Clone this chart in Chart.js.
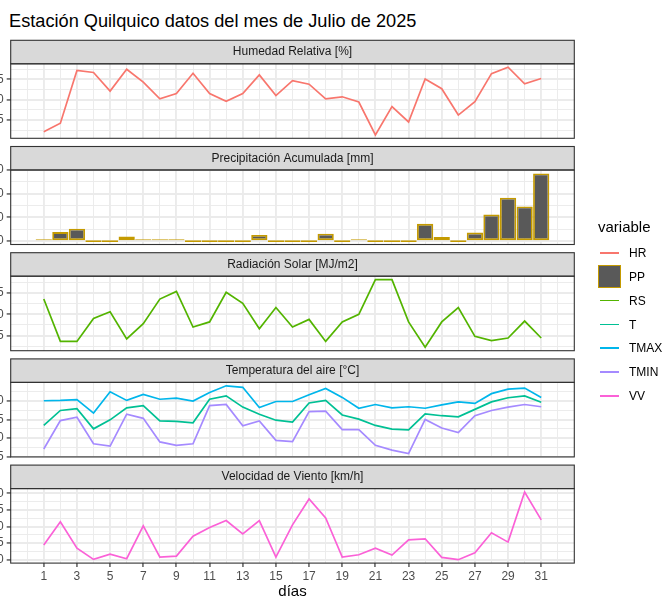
<!DOCTYPE html>
<html lang="es">
<head>
<meta charset="utf-8">
<title>Estación Quilquico - Julio 2025</title>
<script src="https://cdn.jsdelivr.net/npm/chart.js@4.4.1/dist/chart.umd.min.js"></script>
<style>
    html, body { margin: 0; padding: 0; background: #fff; }
    body {
        position: relative;
        width: 663px;
        height: 597px;
        overflow: hidden;
        font-family: "Liberation Sans", Arial, sans-serif;
    }
    canvas { position: absolute; left: 0; top: 0; }
    #titulo {
        position: absolute;
        left: 9px;
        top: 10.5px;
        font-size: 18.2px;
        line-height: 20px;
        color: #000;
        white-space: nowrap;
    }
    .ley-tit {
        position: absolute;
        left: 598px;
        top: 218px;
        font-size: 15px;
        line-height: 17px;
        color: #000;
    }
    .ley-fila {
        position: absolute;
        left: 598px;
        height: 23px;
        display: flex;
        align-items: center;
        font-size: 12px;
        color: #000;
    }
    .ley-clave { position: relative; width: 23px; height: 23px; }
    .ley-linea { position: absolute; left: 2px; top: 10.5px; width: 19px; height: 1.9px; }
    .ley-caja {
        position: absolute; left: 0; top: 0;
        width: 23px; height: 23px; box-sizing: border-box;
        background: #595959; border: 1.9px solid #C49A00;
    }
    .ley-texto { margin-left: 8px; }
</style>
</head>
<body>
<div id="titulo">Estación Quilquico datos del mes de Julio de 2025</div>
<canvas id="panel0" width="663" height="620"></canvas>
<canvas id="panel1" width="663" height="620"></canvas>
<canvas id="panel2" width="663" height="620"></canvas>
<canvas id="panel3" width="663" height="620"></canvas>
<canvas id="panel4" width="663" height="620"></canvas>
<div id="leyenda"></div>

<script>
// datos del mes
const dias = [1, 2, 3, 4, 5, 6, 7, 8, 9, 10, 11, 12, 13, 14, 15, 16, 17, 18, 19, 20, 21, 22, 23, 24, 25, 26, 27, 28, 29, 30, 31];
const etiquetasX = [1, 3, 5, 7, 9, 11, 13, 15, 17, 19, 21, 23, 25, 27, 29, 31];

const HR = [82.1, 84.2, 97.2, 96.7, 92.1, 97.5, 94.3, 90.2, 91.5, 96.5, 91.5, 89.6, 91.5, 96.1, 91.0, 94.7,
    93.8, 90.2, 90.7, 89.4, 81.3, 88.3, 84.5, 95.1, 92.7, 86.2, 89.5, 96.4, 98.0, 93.9, 95.2];
const PP = [0.2, 3.8, 5.2, 0, 0, 2.0, 0.7, 0.4, 0.1, 0, 0, 0, 0, 2.6, 0, 0,
    0, 3.1, 0, 0.4, 0, 0, 0, 7.3, 1.7, 0, 3.6, 11.2, 18.3, 14.6, 28.6];
const RS = [6.8, 1.8, 1.8, 4.5, 5.3, 2.1, 3.9, 6.8, 7.7, 3.5, 4.1, 7.6, 6.3, 3.3, 5.8, 3.5,
    4.4, 1.8, 4.1, 5.0, 9.1, 9.1, 4.1, 1.1, 4.1, 5.8, 2.4, 1.9, 2.2, 4.2, 2.2];
const T = [3.4, 7.4, 7.9, 2.5, 4.9, 8.1, 8.7, 4.6, 4.5, 4.1, 10.4, 11.3, 8.3, 6.4, 4.8, 4.3,
    9.4, 10.1, 6.2, 5.1, 3.4, 2.4, 2.2, 6.5, 6.0, 5.7, 7.7, 9.7, 10.8, 11.3, 9.6];
const TMAX = [10.0, 10.1, 10.3, 6.7, 12.4, 10.1, 11.7, 10.4, 10.7, 9.9, 12.2, 14.0, 13.6, 8.2, 9.8, 9.8,
    11.6, 13.3, 10.9, 8.0, 9.0, 8.1, 8.4, 8.0, 8.9, 9.7, 9.3, 11.9, 13.1, 13.4, 10.9];
const TMIN = [-2.9, 4.7, 5.6, -1.5, -2.1, 6.4, 5.3, -1.0, -1.9, -1.5, 8.7, 9.0, 3.3, 4.6, -0.6, -0.9,
    7.1, 7.2, 2.3, 2.3, -1.9, -3.2, -4.1, 5.0, 2.7, 1.5, 6.0, 7.4, 8.3, 9.0, 8.4];
const VV = [4.4, 11.4, 3.5, 0.1, 1.7, 0.3, 10.2, 0.8, 1.1, 7.1, 9.7, 11.8, 7.8, 11.8, 0.8, 10.5,
    18.3, 12.6, 0.8, 1.5, 3.5, 1.4, 6.0, 6.3, 0.7, 0.0, 2.1, 8.1, 5.3, 20.4, 12.0];

// marcas del eje y de cada panel
const marcasHR = [85, 90, 95];
const marcasPP = [0, 10, 20, 30];
const marcasRS = [2.5, 5, 7.5];
const marcasTemp = [-5, 0, 5, 10];
const marcasVV = [0, 5, 10, 15, 20];

const variables = ["HR", "PP", "RS", "T", "TMAX", "TMIN", "VV"];
const colores = ["#F8766D", "#C49A00", "#53B400", "#00C094", "#00B6EB", "#A58AFF", "#FB61D7"];

// geometria de la figura (estilo ggplot facet_wrap)
const ANCHO = 663, ALTO = 620;
const IZQ = 10.7, DER = 574.3;
const TIRA = 23.5, ALTO_PANEL = 74.5, PASO = 106.2, TOP0 = 63.8;
const GRIS_GRILLA = "#EBEBEB";

Chart.defaults.font.family = '"Liberation Sans", Arial, sans-serif';

const colorDe = (v) => colores[variables.indexOf(v)];

// tira gris con el titulo del panel + borde del panel
const tira = {
    id: "tira",
    afterDraw(chart, args, opts) {
        const { ctx, chartArea: a } = chart;
        ctx.save();
        ctx.fillStyle = "#D9D9D9";
        ctx.fillRect(a.left, a.top - TIRA, a.right - a.left, TIRA);
        ctx.strokeStyle = "#333333";
        ctx.lineWidth = 1.1;
        ctx.strokeRect(a.left, a.top - TIRA, a.right - a.left, TIRA);
        ctx.strokeRect(a.left, a.top, a.right - a.left, a.bottom - a.top);
        ctx.fillStyle = "#1A1A1A";
        ctx.font = '12px "Liberation Sans", Arial, sans-serif';
        ctx.textAlign = "center";
        ctx.textBaseline = "middle";
        ctx.fillText(opts.texto, (a.left + a.right) / 2, a.top - TIRA / 2);
        ctx.restore();
    },
};

function rango(listas, conCero) {
    const todos = [].concat(...listas);
    let lo = Math.min(...todos);
    let hi = Math.max(...todos);
    if (conCero) lo = Math.min(lo, 0);
    const p = (hi - lo) * 0.05;
    return { min: lo - p, max: hi + p };
}

function conMenores(mayores, lo, hi) {
    const paso = mayores[1] - mayores[0];
    const out = [];
    for (let v = mayores[0] - paso / 2; v <= mayores[mayores.length - 1] + paso / 2 + 1e-9; v += paso / 2) {
        out.push(Math.round(v * 1000) / 1000);
    }
    return out.filter((v) => v >= lo && v <= hi);
}

// rango x comun (barras de ancho 0.9 + 5% de expansion)
const xLo = dias[0] - 0.45, xHi = dias[dias.length - 1] + 0.45;
const xMin = xLo - (xHi - xLo) * 0.05, xMax = xHi + (xHi - xLo) * 0.05;
const marcasX = [];
for (let d = 0; d <= 32; d++) marcasX.push(d);

const paneles = [
    { titulo: "Humedad Relativa [%]", series: [["HR", HR]], marcas: marcasHR, dec: 0 },
    { titulo: "Precipitación Acumulada [mm]", series: [["PP", PP]], marcas: marcasPP, dec: 0, barra: true },
    { titulo: "Radiación Solar [MJ/m2]", series: [["RS", RS]], marcas: marcasRS, dec: 1 },
    { titulo: "Temperatura del aire [°C]", series: [["TMIN", TMIN], ["TMAX", TMAX], ["T", T]], marcas: marcasTemp, dec: 0 },
    { titulo: "Velocidad de Viento [km/h]", series: [["VV", VV]], marcas: marcasVV, dec: 0 },
];

paneles.forEach((p, i) => {
    const ultimo = i === paneles.length - 1;
    const arriba = TOP0 + i * PASO;
    const abajo = arriba + ALTO_PANEL;
    const r = rango(p.series.map((s) => s[1]), p.barra);
    const mayores = p.marcas.filter((v) => v >= r.min && v <= r.max);
    const todas = conMenores(p.marcas, r.min, r.max);
    const esMayorY = (c) => c.tick && mayores.includes(c.tick.value);
    const esMayorX = (c) => c.tick && etiquetasX.includes(c.tick.value);

    const datasets = p.series.map(([nombre, valores]) => {
        if (p.barra) {
            return {
                type: "bar",
                label: nombre,
                data: valores,
                backgroundColor: "#595959",
                borderColor: colorDe(nombre),
                borderWidth: 1.8,
                borderSkipped: false,
                inflateAmount: 0,
                minBarLength: 1.8,
                categoryPercentage: 0.98,
                barPercentage: 1,
            };
        }
        return {
            type: "line",
            label: nombre,
            data: valores,
            borderColor: colorDe(nombre),
            borderWidth: 1.7,
            pointRadius: 0,
            tension: 0,
            fill: false,
        };
    });

    new Chart(document.getElementById("panel" + i), {
        type: "line",
        data: { labels: dias, datasets: datasets },
        plugins: [tira],
        options: {
            responsive: false,
            animation: false,
            events: [],
            layout: {
                padding: { top: arriba, left: 0, right: ANCHO - DER, bottom: ultimo ? 0 : ALTO - abajo },
            },
            plugins: {
                legend: { display: false },
                tooltip: { enabled: false },
                tira: { texto: p.titulo },
            },
            scales: {
                x: {
                    type: "linear",
                    min: xMin,
                    max: xMax,
                    offset: false,
                    afterBuildTicks: (s) => { s.ticks = marcasX.map((v) => ({ value: v })); },
                    afterFit: (s) => { s.height = ultimo ? ALTO - abajo : 0; },
                    border: { display: false },
                    grid: {
                        offset: false,
                        color: GRIS_GRILLA,
                        lineWidth: (c) => (esMayorX(c) ? 1.9 : 0.95),
                        drawTicks: ultimo,
                        tickLength: 4,
                        tickWidth: 1.2,
                        tickColor: (c) => (esMayorX(c) ? "#333333" : "rgba(0,0,0,0)"),
                    },
                    ticks: {
                        display: ultimo,
                        autoSkip: false,
                        maxRotation: 0,
                        padding: 2,
                        color: "#4D4D4D",
                        font: { size: 12 },
                        callback: (v) => (etiquetasX.includes(v) ? String(v) : ""),
                    },
                    title: {
                        display: ultimo,
                        text: "días",
                        color: "#000",
                        font: { size: 15 },
                        padding: { top: 0, bottom: 19.5 },
                    },
                },
                y: {
                    type: "linear",
                    min: r.min,
                    max: r.max,
                    afterBuildTicks: (s) => { s.ticks = todas.map((v) => ({ value: v })); },
                    afterFit: (s) => { s.width = IZQ; },
                    border: { display: false },
                    grid: {
                        color: GRIS_GRILLA,
                        lineWidth: (c) => (esMayorY(c) ? 1.9 : 0.95),
                        drawTicks: true,
                        tickLength: 4,
                        tickWidth: 1.2,
                        tickColor: (c) => (esMayorY(c) ? "#333333" : "rgba(0,0,0,0)"),
                    },
                    ticks: {
                        autoSkip: false,
                        padding: 3,
                        color: "#4D4D4D",
                        font: { size: 12 },
                        callback: (v) => (mayores.includes(v) ? v.toFixed(p.dec) : ""),
                    },
                },
            },
        },
    });
});

// leyenda "variable"
const leyenda = document.getElementById("leyenda");
const tit = document.createElement("div");
tit.className = "ley-tit";
tit.textContent = "variable";
leyenda.appendChild(tit);
variables.forEach((v, k) => {
    const fila = document.createElement("div");
    fila.className = "ley-fila";
    fila.style.top = (252.8 + 23.9 * k - 11.5) + "px";
    const clave = document.createElement("div");
    clave.className = "ley-clave";
    const marca = document.createElement("div");
    if (v === "PP") {
        marca.className = "ley-caja";
        marca.style.borderColor = colorDe(v);
    } else {
        marca.className = "ley-linea";
        marca.style.background = colorDe(v);
    }
    clave.appendChild(marca);
    const texto = document.createElement("span");
    texto.className = "ley-texto";
    texto.textContent = v;
    fila.appendChild(clave);
    fila.appendChild(texto);
    leyenda.appendChild(fila);
});
</script>
</body>
</html>
